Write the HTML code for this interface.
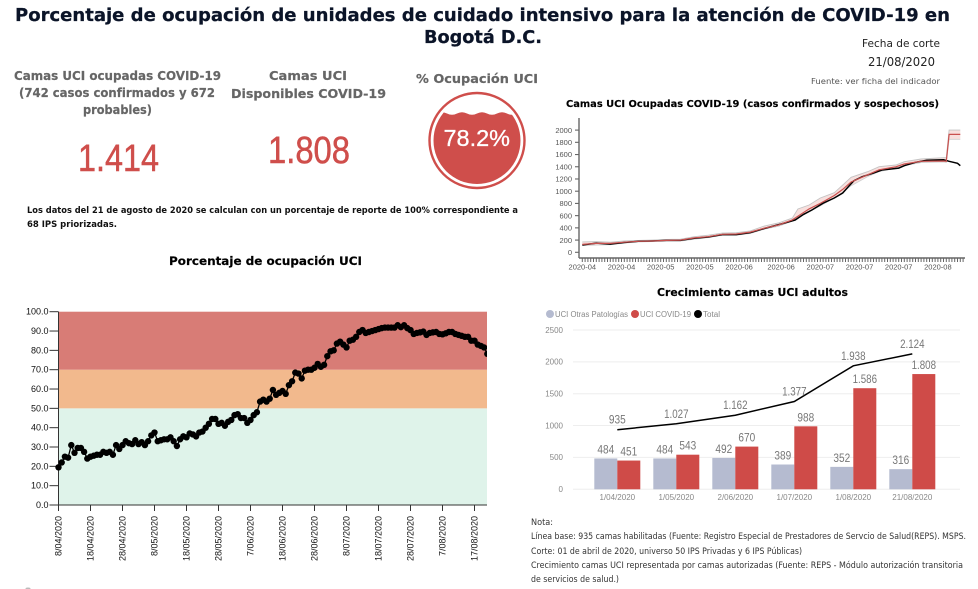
<!DOCTYPE html>
<html lang="es">
<head>
<meta charset="utf-8">
<title>Ocupación UCI COVID-19 Bogotá</title>
<style>
html,body{margin:0;padding:0;background:#fff;}
svg{display:block;}
.h{font-family:"DejaVu Sans",sans-serif;font-weight:bold;}
.k{font-family:"DejaVu Sans",sans-serif;font-weight:bold;fill:#666;stroke:#666;stroke-width:0.2px;font-size:12px;}
.n{font-family:"DejaVu Sans",sans-serif;fill:#222;}
.big{font-family:"Liberation Sans",sans-serif;fill:#cf4e4b;stroke:#cf4e4b;stroke-width:0.5px;font-size:38px;}
.b{font-family:"DejaVu Sans",sans-serif;font-weight:bold;fill:#111;font-size:8.5px;}
.t{font-family:"DejaVu Sans",sans-serif;fill:#333;font-size:8.6px;}
</style>
</head>
<body>
<svg id="page" xmlns="http://www.w3.org/2000/svg" width="978" height="589" viewBox="0 0 978 589">
  <rect width="978" height="589" fill="#fff"/>
  <g>
    <text class="h" x="15" y="21" font-size="18" fill="#0b1428" stroke="#0b1428" stroke-width="0.25" textLength="935" lengthAdjust="spacingAndGlyphs">Porcentaje de ocupación de unidades de cuidado intensivo para la atención de COVID-19 en</text>
    <text class="h" x="424" y="43" font-size="18" fill="#0b1428" stroke="#0b1428" stroke-width="0.25" textLength="118" lengthAdjust="spacingAndGlyphs">Bogotá D.C.</text>
  </g>
  <g>
    <text class="n" x="862" y="47" font-size="11" textLength="78" lengthAdjust="spacingAndGlyphs">Fecha de corte</text>
    <text class="n" x="868" y="66" font-size="12" textLength="67" lengthAdjust="spacingAndGlyphs">21/08/2020</text>
    <text class="n" x="811" y="84" font-size="8" style="fill:#555" textLength="129" lengthAdjust="spacingAndGlyphs">Fuente: ver ficha  del indicador</text>
  </g>
  <g>
    <text class="k" x="14" y="80" textLength="207" lengthAdjust="spacingAndGlyphs">Camas UCI ocupadas COVID-19</text>
    <text class="k" x="19" y="97" textLength="196" lengthAdjust="spacingAndGlyphs">(742 casos confirmados y 672</text>
    <text class="k" x="83" y="114" textLength="69" lengthAdjust="spacingAndGlyphs">probables)</text>
    <text class="big" x="78" y="171" textLength="81" lengthAdjust="spacingAndGlyphs">1.414</text>
  </g>
  <g>
    <text class="k" x="269" y="80" textLength="78" lengthAdjust="spacingAndGlyphs">Camas UCI</text>
    <text class="k" x="231" y="98" textLength="155" lengthAdjust="spacingAndGlyphs">Disponibles COVID-19</text>
    <text class="big" x="268" y="163" textLength="82" lengthAdjust="spacingAndGlyphs">1.808</text>
  </g>
  <g>
    <text class="k" x="416" y="83" textLength="122" lengthAdjust="spacingAndGlyphs">% Ocupación UCI</text>
    <clipPath id="gaugeClip"><circle cx="477" cy="140.5" r="43.5"/></clipPath>
    <circle cx="477" cy="140.5" r="47.5" fill="#fff" stroke="#cf4e4b" stroke-width="2.4"/>
    <path clip-path="url(#gaugeClip)" fill="#cf4e4b" d="M427 113.5 q5 2.5 10 0 t10 0 t10 0 t10 0 t10 0 t10 0 t10 0 t10 0 t10 0 t10 0 V190 H427 Z"/>
    <text x="443.5" y="146" font-family="Liberation Sans, sans-serif" font-size="23" fill="#fff" stroke="#fff" stroke-width="0.3" textLength="66.5" lengthAdjust="spacingAndGlyphs">78.2%</text>
  </g>
  <g>
    <text class="b" x="27" y="213" textLength="491" lengthAdjust="spacingAndGlyphs">Los datos del 21 de agosto de 2020 se calculan con un porcentaje de reporte de 100% correspondiente a</text>
    <text class="b" x="27" y="227" textLength="90" lengthAdjust="spacingAndGlyphs">68 IPS  priorizadas.</text>
  </g>
  <text class="h" x="169" y="265" font-size="11.5" fill="#000" stroke="#000" stroke-width="0.2" textLength="193" lengthAdjust="spacingAndGlyphs">Porcentaje de ocupación UCI</text>
  <g id="occupancyChart"></g>
  <text class="h" x="566" y="107" font-size="10" fill="#000" stroke="#000" stroke-width="0.15" textLength="373" lengthAdjust="spacingAndGlyphs">Camas UCI Ocupadas COVID-19 (casos confirmados y sospechosos)</text>
  <g id="trendChart"></g>
  <text class="h" x="657" y="296" font-size="10.5" fill="#000" stroke="#000" stroke-width="0.15" textLength="191" lengthAdjust="spacingAndGlyphs">Crecimiento camas UCI adultos</text>
  <g id="growthChart"></g>
  <g>
    <text class="t" x="531" y="525" textLength="22" lengthAdjust="spacingAndGlyphs">Nota:</text>
    <text class="t" x="531" y="539" textLength="435" lengthAdjust="spacingAndGlyphs">Línea base: 935 camas habilitadas (Fuente: Registro Especial de Prestadores de Servcio de Salud(REPS). MSPS.</text>
    <text class="t" x="531" y="554" textLength="271" lengthAdjust="spacingAndGlyphs">Corte: 01 de abril de 2020, universo 50 IPS Privadas y 6 IPS Públicas)</text>
    <text class="t" x="531" y="568" textLength="432" lengthAdjust="spacingAndGlyphs">Crecimiento camas UCI representada por camas autorizadas (Fuente:  REPS - Módulo autorización transitoria</text>
    <text class="t" x="531" y="582" textLength="88" lengthAdjust="spacingAndGlyphs">de servicios de salud.)</text>
  </g>
  <ellipse cx="28" cy="588.5" rx="2.5" ry="1" fill="#bbb"/>
</svg>
<script>
// ---- Occupancy chart data (left) ----
const occupancyValues = [19.5,22,25,24.5,31,27,29.5,29.5,27.5,24,25,25.5,26,26,27.5,27,27.5,26,31,29,31,33,32,31.5,33.5,31.5,32.5,31,33,36,37.5,33,33.5,34,34,35,33,30.5,34,35.5,35,37,36.5,35.5,37.5,38,40,42,44.5,44.5,42,42.5,41,43,44,46.5,47,45,45,42.5,44,46.5,48,53.5,54.5,53.5,55,59.5,57,58,59,57.5,62,64,68.5,68,65.5,69.5,70,70,71,73,71.5,72.5,77,79.5,80,83.5,84.5,83,81.5,85,85.5,87,89.5,90.5,89,89.5,90,90.5,91,91.5,91.8,91.8,91.8,91.8,93,92,93,91.5,90.5,88.5,89,89.3,89.7,88,89,89.3,89.5,88.5,88.3,88.8,89.5,89.5,88.5,88,87.5,87,87,85,85,83,82.3,81.5,78.2];
const occupancyXTickLabels = ['8/04/2020','18/04/2020','28/04/2020','8/05/2020','18/05/2020','28/05/2020','7/06/2020','18/06/2020','28/06/2020','8/07/2020','18/07/2020','28/07/2020','7/08/2020','17/08/2020'];
const occupancyXTickDays = [0,10,20,30,40,50,60,70,80,90,100,110,120,130];
const occupancyYTicks = [0,10,20,30,40,50,60,70,80,90,100];
const occupancyBandLimits = [0,50,70,100];
const occupancyBandNames = ['band-low','band-medium','band-high'];
const occupancyBandColors = ['#dff3ea','#f2b98d','#d87c76'];

// ---- Trend chart data (top right) ----
const trendActualDays = [0,5,10,15,20,25,30,35,40,45,50,55,60,65,71,76,79,82,86,90,93,95,97,100,104,107,113,115,119,123,129,131,134,135];
const trendActual = [120,150,135,160,180,185,195,195,230,250,290,290,320,390,463,528,621,692,804,888,970,1074,1172,1238,1296,1347,1378,1418,1473,1505,1516,1489,1456,1418];
const trendBandDays = [0,5,10,15,20,25,30,35,40,45,50,55,60,65,70,75,77,81,85,90,93,96,102,106,112,115,121,129,130,131,135];
const trendExpected = [130,145,145,165,180,185,195,200,235,255,295,300,330,395,445,530,590,710,800,930,1030,1150,1270,1350,1400,1445,1490,1495,1490,1930,1930];
const trendUpper = [170,175,165,185,195,200,210,215,255,280,315,320,350,430,480,560,708,774,888,975,1100,1227,1320,1401,1429,1483,1527,1548,1548,2000,2000];
const trendLower = [110,120,125,150,170,175,185,185,215,240,280,280,310,380,425,510,560,670,760,890,980,1090,1240,1320,1380,1420,1470,1480,1470,1850,1850];
const trendYTicks = [0,200,400,600,800,1000,1200,1400,1600,1800,2000];
const trendXTickDays = [0,14,28,42,56,71,85,99,113,127];
const trendXTickLabels = ['2020-04','2020-04','2020-05','2020-05','2020-06','2020-06','2020-07','2020-07','2020-07','2020-08'];

// ---- Growth chart data (bottom right) ----
const growthCategories = ['1/04/2020','1/05/2020','2/06/2020','1/07/2020','1/08/2020','21/08/2020'];
const growthOther = [484,484,492,389,352,316];
const growthCovid = [451,543,670,988,1586,1808];
const growthTotal = [935,1027,1162,1377,1938,2124];
const growthYTicks = [0,500,1000,1500,2000,2500];
const growthLegend = ['UCI Otras Patologías','UCI COVID-19','Total'];
const growthLegendColors = ['#b5bbd0','#cf4b48','#000'];

const NS = 'http://www.w3.org/2000/svg';
function mk(tag, attrs, parent, txt){
  const el = document.createElementNS(NS, tag);
  for (const k in attrs) el.setAttribute(k, attrs[k]);
  if (txt !== undefined) el.textContent = txt;
  parent.appendChild(el);
  return el;
}
function pathFrom(xs, ys){
  return xs.map((v,i)=>(i?'L':'M')+v.toFixed(1)+' '+ys[i].toFixed(1)).join(' ');
}
function fmt(v){ return String(v).replace(/\B(?=(\d{3})+$)/g,'.'); }

// ---------- occupancy chart ----------
(function(){
  const g = document.getElementById('occupancyChart');
  const xO = d => 58.5 + d*3.2;
  const yO = v => 505 - v*1.933;
  const xEnd = 487;
  const clip = mk('clipPath',{id:'occClip'},g);
  mk('rect',{x:50,y:300,width:xEnd-50,height:220},clip);
  occupancyBandNames.forEach((name,i)=>{
    const band = mk('rect',{x:xO(0),y:yO(occupancyBandLimits[i+1]),width:xEnd-xO(0),height:yO(occupancyBandLimits[i])-yO(occupancyBandLimits[i+1]),fill:occupancyBandColors[i]},g);
    
    
  });
  const yAxis = mk('line',{x1:xO(0),x2:xO(0),y1:yO(100),y2:yO(0),stroke:'#333','stroke-width':1},g);
  
  
  const xAxis = mk('line',{x1:xO(0),x2:xEnd,y1:yO(0),y2:yO(0),stroke:'#333','stroke-width':1},g);
  
  
  occupancyYTicks.forEach(v=>{
    const t = mk('line',{x1:xO(0)-9,x2:xO(0),y1:yO(v),y2:yO(v),stroke:'#333','stroke-width':1},g);
    
    
    const l = mk('text',{x:xO(0)-10,y:yO(v)+3,'text-anchor':'end','font-family':'Liberation Sans, sans-serif','font-size':9,fill:'#111'},g,v.toFixed(1));
    
    
  });
  occupancyXTickDays.forEach((d,i)=>{
    const t = mk('line',{x1:xO(d),x2:xO(d),y1:yO(0),y2:yO(0)+6,stroke:'#333','stroke-width':1},g);
    
    
    const l = mk('text',{transform:'translate('+(xO(d)+3)+',516) rotate(-90)','text-anchor':'end','font-family':'Liberation Sans, sans-serif','font-size':9,fill:'#111'},g,occupancyXTickLabels[i]);
    
    
  });
  const line = mk('path',{d:pathFrom(occupancyValues.map((_,i)=>xO(i)),occupancyValues.map(yO)),fill:'none',stroke:'#000','stroke-width':1.3,'clip-path':'url(#occClip)'},g);
  
  
  occupancyValues.forEach((v,i)=>{
    const c = mk('circle',{cx:xO(i),cy:yO(v),r:3.2,fill:'#000','clip-path':'url(#occClip)'},g);
    
    
  });
})();

// ---------- trend chart ----------
(function(){
  const g = document.getElementById('trendChart');
  const xT = d => 582.3 + d*2.8;
  const yT = v => 252.3 - v*0.0611;
  const yAxis = mk('line',{x1:579,x2:579,y1:118,y2:258,stroke:'#666','stroke-width':1.4},g);
  
  
  const xAxis = mk('line',{x1:579,x2:965,y1:258,y2:258,stroke:'#666','stroke-width':1.4},g);
  
  
  trendYTicks.forEach(v=>{
    const t = mk('line',{x1:575,x2:579,y1:yT(v),y2:yT(v),stroke:'#666','stroke-width':1.1},g);
    
    
    const l = mk('text',{x:572,y:yT(v)+2.7,'text-anchor':'end','font-family':'Liberation Sans, sans-serif','font-size':7.5,fill:'#555'},g,v);
    
    
  });
  for (let d = 0; d <= 136; d++){
    const t = mk('line',{x1:xT(d),x2:xT(d),y1:258,y2:262,stroke:'#666','stroke-width':1},g);
    
    
  }
  trendXTickDays.forEach((d,i)=>{
    const l = mk('text',{x:xT(d),y:269.5,'text-anchor':'middle','font-family':'Liberation Sans, sans-serif','font-size':7.5,fill:'#555'},g,trendXTickLabels[i]);
    
    
  });
  const bx = trendBandDays.map(xT);
  const bandPath = pathFrom(bx,trendUpper.map(yT)) + ' ' + pathFrom(bx.slice().reverse(),trendLower.map(yT).reverse()).replace('M','L') + ' Z';
  const band = mk('path',{d:bandPath,fill:'#f4c9c6','fill-opacity':0.6,stroke:'none'},g);
  
  
  const up = mk('path',{d:pathFrom(bx,trendUpper.map(yT)),fill:'none',stroke:'#c4c4c4','stroke-width':0.9},g);
  
  
  const lo = mk('path',{d:pathFrom(bx,trendLower.map(yT)),fill:'none',stroke:'#d0d0d0','stroke-width':0.9},g);
  
  
  const act = mk('path',{d:pathFrom(trendActualDays.map(xT),trendActual.map(yT)),fill:'none',stroke:'#000','stroke-width':1.5},g);
  
  
  const exp = mk('path',{d:pathFrom(bx,trendExpected.map(yT)),fill:'none',stroke:'#c9504e','stroke-width':1.2},g);
  
  
})();

// ---------- growth chart ----------
(function(){
  const g = document.getElementById('growthChart');
  const xG = i => 617.3 + i*59;
  const yG = v => 489.3 - v*0.06374;
  const barW = 23;
  const labelFont = 'Liberation Sans, sans-serif';
  const labelWidth = s => s.replace(/\./g,'').length*5.6 + (s.includes('.')?2:0);
  growthYTicks.forEach(v=>{
    const gl = mk('line',{x1:573,x2:960,y1:yG(v),y2:yG(v),stroke:'#eee','stroke-width':1},g);
    
    
    const l = mk('text',{x:563,y:yG(v)+2.8,'text-anchor':'end','font-family':labelFont,'font-size':8,fill:'#888'},g,v);
    
    
  });
  growthLegend.forEach((name,i)=>{
    const cxs = [550,635,698];
    const wid = [73,51,17];
    const c = mk('circle',{cx:cxs[i],cy:314,r:4,fill:growthLegendColors[i]},g);
    
    
    const l = mk('text',{x:cxs[i]+5,y:317,'font-family':labelFont,'font-size':8,fill:'#888',textLength:wid[i],lengthAdjust:'spacingAndGlyphs'},g,name);
    
    
  });
  growthCategories.forEach((cat,i)=>{
    const bo = mk('rect',{x:xG(i)-barW,y:yG(growthOther[i]),width:barW,height:yG(0)-yG(growthOther[i]),fill:'#b5bbd0'},g);
    
    
    const bc = mk('rect',{x:xG(i),y:yG(growthCovid[i]),width:barW,height:yG(0)-yG(growthCovid[i]),fill:'#cf4b48'},g);
    
    
    const so = fmt(growthOther[i]);
    const lo = mk('text',{x:xG(i)-barW/2-labelWidth(so)/2,y:yG(growthOther[i])-5,'font-family':labelFont,'font-size':11.5,fill:'#777',textLength:labelWidth(so),lengthAdjust:'spacingAndGlyphs'},g,so);
    
    
    const sc = fmt(growthCovid[i]);
    const lc = mk('text',{x:xG(i)+barW/2-labelWidth(sc)/2,y:yG(growthCovid[i])-5,'font-family':labelFont,'font-size':11.5,fill:'#777',textLength:labelWidth(sc),lengthAdjust:'spacingAndGlyphs'},g,sc);
    
    
    const lx = mk('text',{x:xG(i),y:500,'text-anchor':'middle','font-family':labelFont,'font-size':8,fill:'#888'},g,cat);
    
    
  });
  const total = mk('path',{d:pathFrom(growthTotal.map((_,i)=>xG(i)),growthTotal.map(yG)),fill:'none',stroke:'#000','stroke-width':1.5},g);
  
  
  growthTotal.forEach((v,i)=>{
    const s = fmt(v);
    const l = mk('text',{x:xG(i)-labelWidth(s)/2,y:yG(v)-6,'font-family':labelFont,'font-size':11.5,fill:'#777',textLength:labelWidth(s),lengthAdjust:'spacingAndGlyphs'},g,s);
    
    
  });
})();
</script>
</body>
</html>
